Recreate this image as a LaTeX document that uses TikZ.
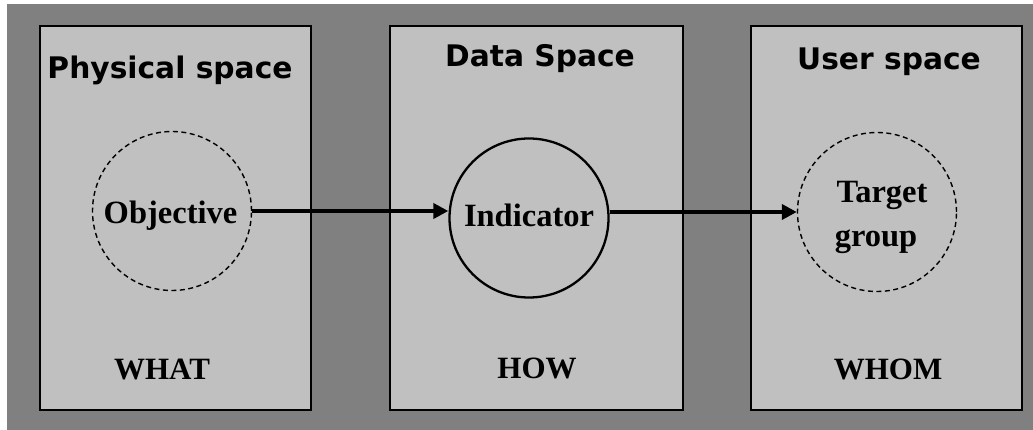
\documentclass[tikz,border=0pt]{standalone}
\usepackage{fontspec}
\setmainfont{Liberation Serif}
\newfontfamily\headfont{DejaVu Sans}
\usetikzlibrary{arrows.meta}
\definecolor{bggray}{HTML}{808080}
\definecolor{boxgray}{HTML}{C0C0C0}
\tikzset{
  spacebox/.style={draw=black, line width=1.8pt, fill=boxgray},
  heading/.style={anchor=base, inner sep=0pt, font=\headfont\bfseries\fontsize{29.7}{35}\selectfont},
  serif/.style={anchor=base, inner sep=0pt, font=\bfseries\fontsize{32.5}{38}\selectfont},
  bottom/.style={anchor=base, inner sep=0pt, font=\bfseries\fontsize{31}{36}\selectfont},
  dashcirc/.style={circle, draw=black, line width=1.4pt, dash pattern=on 5pt off 3.5pt, minimum size=159pt, inner sep=0pt},
  solidcirc/.style={circle, draw=black, line width=2.3pt, minimum size=159pt, inner sep=0pt},
  arr/.style={line width=4.8pt, -{Triangle[length=15pt,width=15pt]}, shorten >=0pt}
}
\begin{document}
\begin{tikzpicture}[x=1pt,y=-1pt]
\useasboundingbox (0,0) rectangle (1033,430);
\fill[bggray] (7,4) rectangle (1033,430);
\draw[spacebox] (40,26) rectangle (311,410);
\draw[spacebox] (390,26) rectangle (683,410);
\draw[spacebox] (751,26) rectangle (1022,410);
\node[heading] (h1) at (170,79) {Physical space};
\node[heading] (h2) at (540,67) {Data Space};
\node[heading] (h3) at (889,70) {User space};
\node[dashcirc] (obj) at (172,211) {};
\node[solidcirc] (ind) at (529,218) {};
\node[dashcirc] (tgt) at (877,212) {};
\node[serif] (objl) at (170.5,224) {Objective};
\node[serif] (indl) at (529,227) {Indicator};
\node[serif] (tgtl1) at (882,203) {Target};
\node[serif] (tgtl2) at (876,247) {group};
\node[bottom] (what) at (162,379) {WHAT};
\node[bottom] (how) at (537,378) {HOW};
\node[bottom] (whom) at (888,379) {WHOM};
\draw[arr] (obj.east) -- (obj.east -| ind.west);
\draw[arr] (ind.east |- tgt.west) -- (tgt.west);
\end{tikzpicture}
\end{document}
